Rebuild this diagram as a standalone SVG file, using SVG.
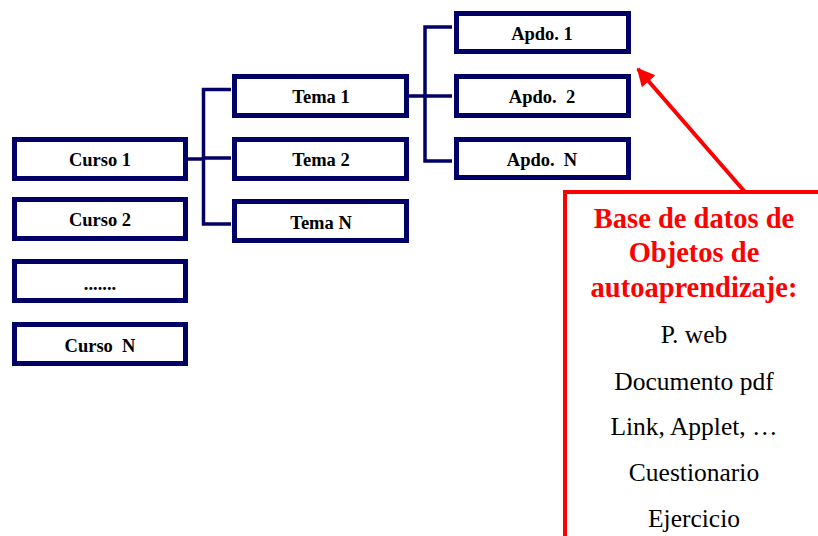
<svg xmlns="http://www.w3.org/2000/svg" width="818" height="536" viewBox="0 0 818 536">
  <style>
    .box { fill: #ffffff; stroke: #000066; stroke-width: 5; }
    .lbl { font-family: "Liberation Serif", "Times New Roman", serif; font-weight: bold; font-size: 18.5px; fill: #000000; text-anchor: middle; }
    .conn { fill: none; stroke: #000066; stroke-width: 3.5; stroke-linejoin: miter; }
    .db { fill: none; stroke: #ff0000; stroke-width: 4; }
    .dbtitle { font-family: "Liberation Serif", "Times New Roman", serif; font-weight: bold; font-size: 28.5px; fill: #ff0000; text-anchor: middle; }
    .dbitem { font-family: "Liberation Serif", "Times New Roman", serif; font-size: 25.5px; fill: #000000; text-anchor: middle; }
  </style>
  <defs>
    <marker id="redArrow" viewBox="0 0 10 10" refX="9" refY="5" markerWidth="5" markerHeight="4.5" orient="auto" markerUnits="strokeWidth">
      <path d="M0,0 L10,5 L0,10 z" fill="#ff0000"/>
    </marker>
  </defs>

  <!-- connectors -->
  <g id="connectors">
    <path class="conn" d="M188,159 H203.5 M231,89.5 H203.5 V224 H231 M203.5,158 H231"/>
    <path class="conn" d="M409,96 H425 M452,27 H425 V161 H452 M425,96 H452"/>
    <line x1="745" y1="192" x2="638" y2="69" stroke="#ff0000" stroke-width="4" marker-end="url(#redArrow)"/>
  </g>

  <!-- courses -->
  <g id="curso1"><rect class="box" x="14.5" y="139.5" width="171" height="39"/><text class="lbl" x="100" y="166">Curso 1</text></g>
  <g id="curso2"><rect class="box" x="14.5" y="199.5" width="171" height="39"/><text class="lbl" x="100" y="226">Curso 2</text></g>
  <g id="cursoDots"><rect class="box" x="14.5" y="261.5" width="171" height="39"/><text class="lbl" x="100" y="290">.......</text></g>
  <g id="cursoN"><rect class="box" x="14.5" y="324.5" width="171" height="39"/><text class="lbl" x="100" y="352" xml:space="preserve">Curso  N</text></g>

  <!-- topics -->
  <g id="tema1"><rect class="box" x="234.5" y="76.5" width="172" height="39"/><text class="lbl" x="321" y="102.5">Tema 1</text></g>
  <g id="tema2"><rect class="box" x="234.5" y="139.5" width="172" height="39"/><text class="lbl" x="321" y="166">Tema 2</text></g>
  <g id="temaN"><rect class="box" x="234.5" y="201.5" width="172" height="39"/><text class="lbl" x="321" y="229">Tema N</text></g>

  <!-- sections -->
  <g id="apdo1"><rect class="box" x="456.5" y="13.5" width="172" height="38"/><text class="lbl" x="542" y="39.5">Apdo. 1</text></g>
  <g id="apdo2"><rect class="box" x="456.5" y="76.5" width="172" height="39"/><text class="lbl" x="542" y="102.5" xml:space="preserve">Apdo.  2</text></g>
  <g id="apdoN"><rect class="box" x="456.5" y="139.5" width="172" height="38"/><text class="lbl" x="542" y="166" xml:space="preserve">Apdo.  N</text></g>

  <!-- learning object repository -->
  <g id="baseDatos">
    <rect class="db" x="565" y="192" width="280" height="370"/>
    <text class="dbtitle" x="694" y="228">Base de datos de</text>
    <text class="dbtitle" x="694" y="262">Objetos de</text>
    <text class="dbtitle" x="694" y="297">autoaprendizaje:</text>
    <text class="dbitem" x="694" y="343">P. web</text>
    <text class="dbitem" x="694" y="390">Documento pdf</text>
    <text class="dbitem" x="694" y="435">Link, Applet, …</text>
    <text class="dbitem" x="694" y="481">Cuestionario</text>
    <text class="dbitem" x="694" y="527">Ejercicio</text>
  </g>
</svg>
